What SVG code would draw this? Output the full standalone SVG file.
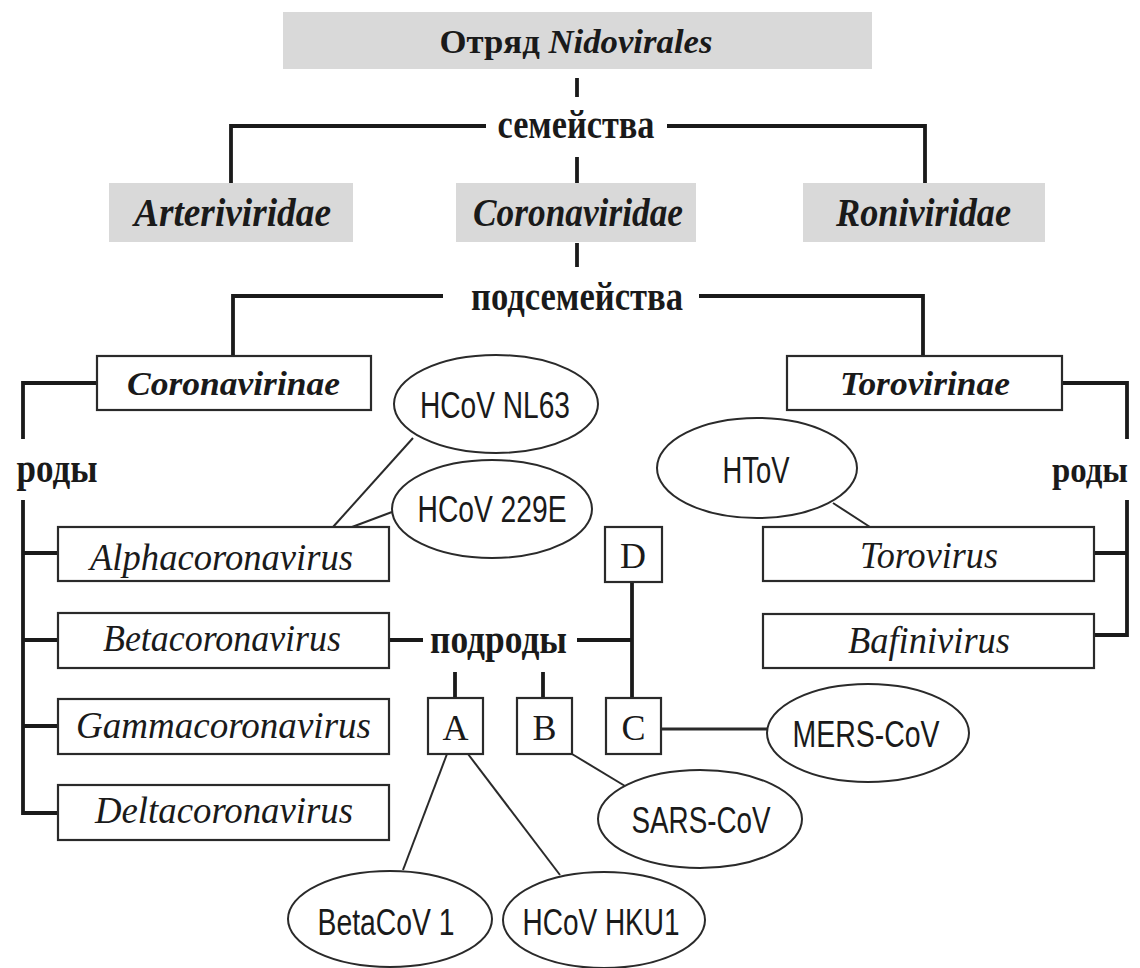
<svg xmlns="http://www.w3.org/2000/svg" width="1140" height="968" viewBox="0 0 1140 968">
<style>
.bg{fill:#ffffff}
.gray{fill:#d9d9d9;stroke:none}
.box{fill:#ffffff;stroke:#2a2a2a;stroke-width:2.2}
.ell{fill:#ffffff;stroke:#2a2a2a;stroke-width:2}
.thick{fill:none;stroke:#1a1a1a;stroke-width:3.8}
.thin{fill:none;stroke:#2a2a2a;stroke-width:2}
.serif{font-family:"Liberation Serif","Times New Roman",serif;fill:#1a1a1a}
.sans{font-family:"Liberation Sans",Arial,sans-serif;fill:#1a1a1a}
.b{font-weight:bold}
.i{font-style:italic}
</style>
<rect class="bg" x="0" y="0" width="1140" height="968"/>
<g id="connectors">
<path class="thick" d="M577 78 V97"/>
<path class="thick" d="M231 183 V126 H486"/>
<path class="thick" d="M667 126 H925 V183"/>
<path class="thick" d="M577 157 V183"/>
<path class="thick" d="M577 243 V267"/>
<path class="thick" d="M233 356 V296 H443"/>
<path class="thick" d="M699 296 H923 V356"/>
<path class="thick" d="M97 383 H23 V439"/>
<path class="thick" d="M58 813 H23 V500"/>
<path class="thick" d="M23 553 H58"/>
<path class="thick" d="M23 640 H58"/>
<path class="thick" d="M23 726 H58"/>
<path class="thick" d="M1062 383 H1127 V439"/>
<path class="thick" d="M1094 635 H1127 V500"/>
<path class="thick" d="M1094 553 H1127"/>
<path class="thick" d="M389 640 H423"/>
<path class="thick" d="M577 640 H632"/>
<path class="thick" d="M632 582 V698"/>
<path class="thick" d="M455 672 V698"/>
<path class="thick" d="M543 672 V698"/>
<path class="thin" style="stroke-width:3" d="M661 729 H767"/>
<path class="thin" d="M572 754 L625 786"/>
<path class="thin" d="M447 754 L403 870"/>
<path class="thin" d="M468 754 L560 875"/>
<path class="thin" d="M333 527 L413 438"/>
<path class="thin" d="M352 527 L392 512"/>
<path class="thin" d="M833 503 L870 527"/>
</g>
<g id="labels">
<text class="serif b" x="576" y="138" font-size="40" text-anchor="middle" textLength="157" lengthAdjust="spacingAndGlyphs">семейства</text>
<text class="serif b" x="577" y="310" font-size="40" text-anchor="middle" textLength="212" lengthAdjust="spacingAndGlyphs">подсемейства</text>
<text class="serif b" x="57" y="482" font-size="39" text-anchor="middle" textLength="81" lengthAdjust="spacingAndGlyphs">роды</text>
<text class="serif b" x="1090" y="482" font-size="36" text-anchor="middle" textLength="76" lengthAdjust="spacingAndGlyphs">роды</text>
<text class="serif b" x="498.5" y="653" font-size="39" text-anchor="middle" textLength="137" lengthAdjust="spacingAndGlyphs">подроды</text>
</g>
<g id="nidovirales">
<rect class="gray" x="283" y="12" width="589" height="57"/>
<text class="serif b" x="576" y="53" font-size="33" text-anchor="middle" textLength="273" lengthAdjust="spacingAndGlyphs">Отряд <tspan class="i">Nidovirales</tspan></text>
</g>
<g id="arteriviridae">
<rect class="gray" x="109" y="183" width="244" height="59"/>
<text class="serif b i" x="232.5" y="226" font-size="39" text-anchor="middle" textLength="197" lengthAdjust="spacingAndGlyphs">Arteriviridae</text>
</g>
<g id="coronaviridae">
<rect class="gray" x="456" y="183" width="240" height="59"/>
<text class="serif b i" x="578" y="226" font-size="39" text-anchor="middle" textLength="210" lengthAdjust="spacingAndGlyphs">Coronaviridae</text>
</g>
<g id="roniviridae">
<rect class="gray" x="803" y="183" width="242" height="59"/>
<text class="serif b i" x="923.5" y="226" font-size="39" text-anchor="middle" textLength="175" lengthAdjust="spacingAndGlyphs">Roniviridae</text>
</g>
<g id="coronavirinae">
<rect class="box" x="97" y="356" width="274" height="54"/>
<text class="serif b i" x="233.5" y="395" font-size="33" text-anchor="middle" textLength="213" lengthAdjust="spacingAndGlyphs">Coronavirinae</text>
</g>
<g id="torovirinae">
<rect class="box" x="787" y="356" width="275" height="54"/>
<text class="serif b i" x="925" y="395" font-size="33" text-anchor="middle" textLength="170" lengthAdjust="spacingAndGlyphs">Torovirinae</text>
</g>
<g id="alphacoronavirus">
<rect class="box" x="58" y="527" width="331" height="54"/>
<text class="serif i" x="221.5" y="570" font-size="38" text-anchor="middle" textLength="263" lengthAdjust="spacingAndGlyphs">Alphacoronavirus</text>
</g>
<g id="betacoronavirus">
<rect class="box" x="58" y="613" width="331" height="55"/>
<text class="serif i" x="222" y="651" font-size="38" text-anchor="middle" textLength="238" lengthAdjust="spacingAndGlyphs">Betacoronavirus</text>
</g>
<g id="gammacoronavirus">
<rect class="box" x="58" y="699" width="331" height="55"/>
<text class="serif i" x="223.5" y="738" font-size="38" text-anchor="middle" textLength="295" lengthAdjust="spacingAndGlyphs">Gammacoronavirus</text>
</g>
<g id="deltacoronavirus">
<rect class="box" x="58" y="785" width="331" height="55"/>
<text class="serif i" x="224" y="823" font-size="38" text-anchor="middle" textLength="258" lengthAdjust="spacingAndGlyphs">Deltacoronavirus</text>
</g>
<g id="torovirus">
<rect class="box" x="763" y="527" width="331" height="54"/>
<text class="serif i" x="929" y="568" font-size="38" text-anchor="middle" textLength="138" lengthAdjust="spacingAndGlyphs">Torovirus</text>
</g>
<g id="bafinivirus">
<rect class="box" x="763" y="614" width="331" height="54"/>
<text class="serif i" x="929" y="653" font-size="38" text-anchor="middle" textLength="162" lengthAdjust="spacingAndGlyphs">Bafinivirus</text>
</g>
<g id="subgenus-d">
<rect class="box" x="605" y="527" width="57" height="55"/>
<text class="serif" x="633" y="568" font-size="36" text-anchor="middle">D</text>
</g>
<g id="subgenus-a">
<rect class="box" x="428" y="698" width="55" height="56"/>
<text class="serif" x="455.5" y="740" font-size="36" text-anchor="middle">A</text>
</g>
<g id="subgenus-b">
<rect class="box" x="517" y="698" width="55" height="56"/>
<text class="serif" x="544.5" y="740" font-size="36" text-anchor="middle">B</text>
</g>
<g id="subgenus-c">
<rect class="box" x="606" y="698" width="55" height="56"/>
<text class="serif" x="633.5" y="740" font-size="36" text-anchor="middle">C</text>
</g>
<g id="hcov-nl63">
<ellipse class="ell" cx="496" cy="404" rx="102" ry="49"/>
<text class="sans" x="495" y="418" font-size="37" text-anchor="middle" textLength="150" lengthAdjust="spacingAndGlyphs">HCoV NL63</text>
</g>
<g id="hcov-229e">
<ellipse class="ell" cx="492" cy="509" rx="100" ry="49"/>
<text class="sans" x="492" y="522" font-size="37" text-anchor="middle" textLength="149" lengthAdjust="spacingAndGlyphs">HCoV 229E</text>
</g>
<g id="htov">
<ellipse class="ell" cx="757" cy="468" rx="100" ry="50"/>
<text class="sans" x="756" y="483" font-size="37" text-anchor="middle" textLength="67" lengthAdjust="spacingAndGlyphs">HToV</text>
</g>
<g id="mers-cov">
<ellipse class="ell" cx="868" cy="733" rx="101" ry="49"/>
<text class="sans" x="866" y="747" font-size="37" text-anchor="middle" textLength="147" lengthAdjust="spacingAndGlyphs">MERS-CoV</text>
</g>
<g id="sars-cov">
<ellipse class="ell" cx="700" cy="819" rx="102" ry="49"/>
<text class="sans" x="701" y="833" font-size="37" text-anchor="middle" textLength="139" lengthAdjust="spacingAndGlyphs">SARS-CoV</text>
</g>
<g id="betacov-1">
<ellipse class="ell" cx="390" cy="919" rx="102" ry="48"/>
<text class="sans" x="386" y="935" font-size="37" text-anchor="middle" textLength="137" lengthAdjust="spacingAndGlyphs">BetaCoV 1</text>
</g>
<g id="hcov-hku1">
<ellipse class="ell" cx="604" cy="920" rx="101" ry="48"/>
<text class="sans" x="601" y="935" font-size="37" text-anchor="middle" textLength="157" lengthAdjust="spacingAndGlyphs">HCoV HKU1</text>
</g>
</svg>
